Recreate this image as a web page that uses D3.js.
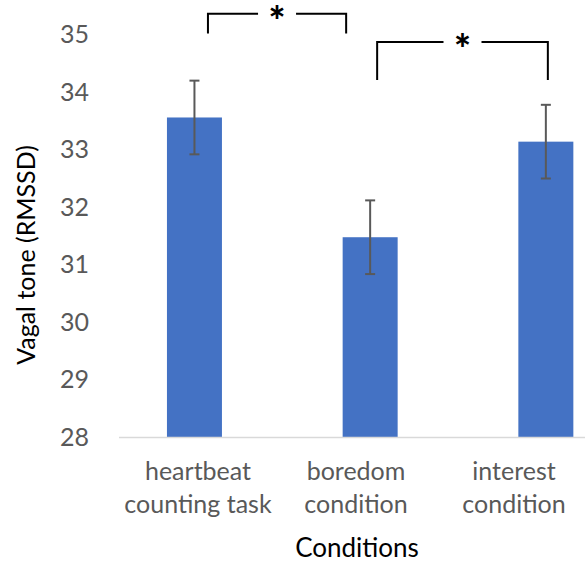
<!DOCTYPE html>
<html>
<head>
<meta charset="utf-8">
<script src="https://cdn.jsdelivr.net/npm/d3@7"></script>
<style>
  body { margin: 0; background: #fff; }
  svg { display: block; font-family: Lato, "Open Sans", sans-serif; }
</style>
</head>
<body>
<svg id="chart" width="585" height="563"></svg>
<script>
var categories = [["heartbeat", "counting task"], ["boredom", "condition"], ["interest", "condition"]]
var values = [33.55, 31.47, 33.13]
var errors = [0.64, 0.64, 0.64]
var yTicks = [28, 29, 30, 31, 32, 33, 34, 35]
// significance brackets: [from bar, to bar, top value, bottom value]
var brackets = [[0, 1, 35.35, 35.01], [1, 2, 34.86, 34.2]]

var svg = d3.select("#chart")

// category axis (labels)
var xc = d3.scaleBand()
    .domain(d3.range(categories.length))
    .range([119, 593])

// bars sit a bit off the category centres, as in the original
var x = d3.scaleBand()
    .domain(d3.range(categories.length))
    .range([106.6, 633.7])
    .paddingInner(0.687)
    .paddingOuter(0.3435)

var y = d3.scaleLinear()
    .domain([28, 35])
    .range([437, 34])

// y tick labels
svg.append("g")
    .selectAll("text")
    .data(yTicks)
    .enter()
    .append("text")
    .attr("x", 89)
    .attr("y", function(d) { return y(d) })
    .attr("dy", "0.36em")
    .attr("text-anchor", "end")
    .attr("fill", "#595959")
    .style("font-size", "25px")
    .text(function(d) { return d })

// bars
svg.append("g")
    .selectAll("rect")
    .data(values)
    .enter()
    .append("rect")
    .attr("x", function(d, i) { return x(i) })
    .attr("y", function(d) { return y(d) })
    .attr("width", x.bandwidth())
    .attr("height", function(d) { return y(28) - y(d) })
    .attr("fill", "#4472C4")

// axis line
svg.append("line")
    .attr("x1", 119)
    .attr("x2", 585)
    .attr("y1", y(28) + 0.5)
    .attr("y2", y(28) + 0.5)
    .attr("stroke", "#d9d9d9")
    .attr("stroke-width", 1.5)

// error bars
var eb = svg.append("g")
    .attr("stroke", "#595959")
    .attr("stroke-width", 2)

values.forEach(function(v, i) {
    var cx = x(i) + x.bandwidth() / 2
    eb.append("line")
        .attr("x1", cx).attr("x2", cx)
        .attr("y1", y(v + errors[i])).attr("y2", y(v - errors[i]))
    eb.append("line")
        .attr("x1", cx - 5).attr("x2", cx + 5)
        .attr("y1", y(v + errors[i])).attr("y2", y(v + errors[i]))
    eb.append("line")
        .attr("x1", cx - 5).attr("x2", cx + 5)
        .attr("y1", y(v - errors[i])).attr("y2", y(v - errors[i]))
})

// significance brackets
var offsets = [[13.5, -24], [7, 2]]
brackets.forEach(function(b, k) {
    var x1 = x(b[0]) + x.bandwidth() / 2 + offsets[k][0]
    var x2 = x(b[1]) + x.bandwidth() / 2 + offsets[k][1]
    var mid = (x1 + x2) / 2
    var yt = y(b[2]), yb = y(b[3])
    svg.append("path")
        .attr("d", "M" + x1 + "," + yb + "V" + yt + "H" + (mid - 19)
            + "M" + (mid + 19) + "," + yt + "H" + x2 + "V" + yb)
        .attr("fill", "none")
        .attr("stroke", "#000")
        .attr("stroke-width", 2)
    svg.append("text")
        .attr("x", mid)
        .attr("y", yt + 22)
        .attr("text-anchor", "middle")
        .style("font-size", "40px")
        .style("font-weight", "900")
        .text("*")
})

// category labels
var cat = svg.append("g")
    .selectAll("text")
    .data(categories)
    .enter()
    .append("text")
    .attr("text-anchor", "middle")
    .attr("fill", "#595959")
    .style("font-size", "25px")

cat.selectAll("tspan")
    .data(function(d, i) { return d.map(function(t) { return [t, i] }) })
    .enter()
    .append("tspan")
    .attr("x", function(d) { return xc(d[1]) + xc.bandwidth() / 2 })
    .attr("y", function(d, j) { return 480 + j * 33 })
    .text(function(d) { return d[0] })

// axis titles
svg.append("text")
    .attr("x", 357)
    .attr("y", 557)
    .attr("text-anchor", "middle")
    .attr("fill", "#000")
    .style("font-size", "26px")
    .text("Conditions")

svg.append("text")
    .attr("transform", "translate(35,255) rotate(-90)")
    .attr("text-anchor", "middle")
    .attr("fill", "#000")
    .style("font-size", "25px")
    .text("Vagal tone (RMSSD)")
</script>
</body>
</html>
